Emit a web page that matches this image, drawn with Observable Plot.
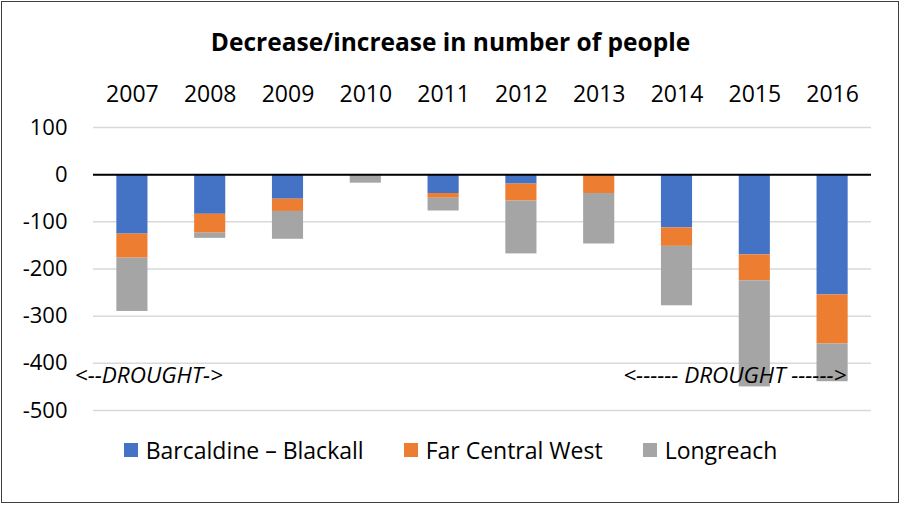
<!DOCTYPE html>
<html><head><meta charset="utf-8">
<script src="https://cdn.jsdelivr.net/npm/d3@7"></script>
<script src="https://cdn.jsdelivr.net/npm/@observablehq/plot@0.6"></script>
<style>
body{margin:0;background:#fff;font-family:"Open Sans",sans-serif;color:#000;}
#wrap{position:relative;width:901px;height:505px;overflow:hidden;background:#fff;}
#frame{position:absolute;left:1px;top:1px;width:896px;height:500px;border:1.5px solid #404040;pointer-events:none;}
#title{position:absolute;top:26px;left:0;width:901px;text-align:center;font-weight:bold;font-size:24.5px;line-height:32px;}
#chart{position:absolute;top:62px;left:0;}
#legend{position:absolute;top:435px;left:0;width:901px;display:flex;justify-content:center;align-items:center;font-size:23px;line-height:30px;}
.item{display:flex;align-items:center;margin:0 20px;}
.sw{width:14px;height:14px;margin-right:8px;}
</style>
</head><body>
<div id="wrap">
  <div id="title">Decrease/increase in number of people</div>
  <div id="chart"></div>
  <div id="legend"></div>
  <div id="frame"></div>
</div>
<script>
const years = ["2007","2008","2009","2010","2011","2012","2013","2014","2015","2016"];
const seriesNames = ["Barcaldine – Blackall","Far Central West","Longreach"];
const barcaldine = [-126,-84,-52,0,-40,-20,0,-113,-170,-255];
const farCentralWest = [-51,-40,-26,0,-10,-36,-40,-39,-55,-104];
const longreach = [-113,-11,-59,-18,-27,-112,-107,-126,-225,-80];
const colors = ["#4472C4","#ED7D31","#A5A5A5"];
const yTicks = [100,0,-100,-200,-300,-400,-500];
const droughtNotes = [
  {year:"2007", value:-426, label:"<--DROUGHT->"},
  {year:"2015", value:-426, label:"<------ DROUGHT ------>"}
];

const valuesBySeries = [barcaldine, farCentralWest, longreach];
const data = [];
seriesNames.forEach((s,i)=>years.forEach((y,j)=>data.push({year:y, series:s, value:valuesBySeries[i][j]})));

const chart = Plot.plot({
  width:901, height:375,
  marginTop:65, marginBottom:27, marginLeft:93, marginRight:30,
  style:{fontFamily:"Open Sans, sans-serif", fontSize:"22px", color:"#000", background:"transparent", overflow:"visible"},
  x:{domain:years, paddingInner:0.6, paddingOuter:0.3, round:false, axis:null},
  y:{domain:[-500,100], axis:null},
  color:{domain:seriesNames, range:colors},
  marks:[
    Plot.gridY(yTicks,{stroke:"#d9d9d9", strokeOpacity:1, strokeWidth:1.5}),
    Plot.axisY(yTicks,{tickSize:0, tickPadding:26, fontSize:22, label:null, tickFormat:d=>String(d)}),
    Plot.axisX(years,{anchor:"top", tickSize:0, tickPadding:26, fontSize:23, label:null}),
    Plot.barY(data,{x:"year", y:"value", fill:"series"}),
    Plot.ruleY([0],{stroke:"#000", strokeWidth:2}),
    Plot.text([droughtNotes[0]],{x:"year", y:"value", text:"label", dx:16.5, fontStyle:"italic", fontSize:22.5, fill:"#000"}),
    Plot.text([droughtNotes[1]],{x:"year", y:"value", text:"label", dx:-20, fontStyle:"italic", fontSize:22.5, fill:"#000"})
  ]
});
document.getElementById("chart").appendChild(chart);

const legend = document.getElementById("legend");
seriesNames.forEach((s,i)=>{
  const it=document.createElement("div"); it.className="item";
  const sw=document.createElement("div"); sw.className="sw"; sw.style.background=colors[i];
  const t=document.createElement("span"); t.textContent=s;
  it.appendChild(sw); it.appendChild(t); legend.appendChild(it);
});
</script>
</body></html>
